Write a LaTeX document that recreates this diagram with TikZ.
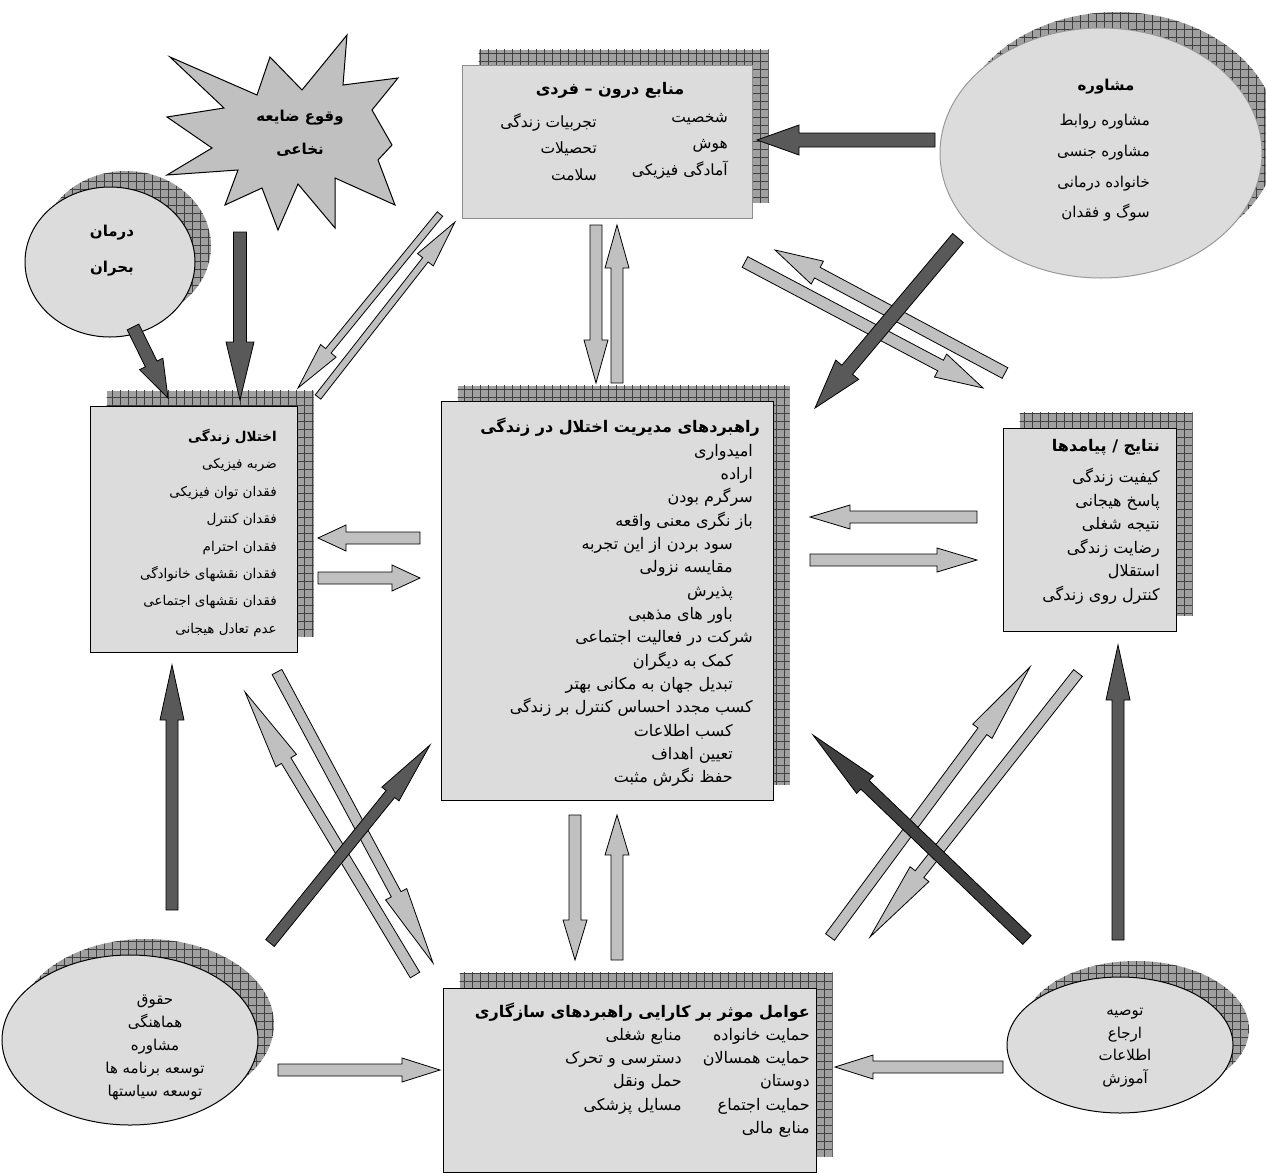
\documentclass[tikz,border=0pt]{standalone}
\usepackage{fontspec}
\newfontfamily\arabicfont[Script=Arabic]{DejaVu Sans}
\TeXXeTstate=1
\usetikzlibrary{calc,shapes.geometric,shadows,patterns.meta}

\definecolor{boxgray}{HTML}{DCDCDC}
\definecolor{lightarr}{HTML}{C0C0C0}
\definecolor{darkarr}{HTML}{595959}
\definecolor{darkerarr}{HTML}{404040}
\definecolor{shade}{HTML}{A0A0A0}

\newcommand{\rl}[1]{\beginR#1\endR}
% block arrow: tail, tip, fill, shaft half width, head half width, head length
\newcommand{\blockarrow}[6]{%
  \coordinate (neck) at ($(#2)!#6pt!(#1)$);
  \draw[blockline, fill=#3] ($(#1)!#4pt!90:(#2)$) -- ($(neck)!#4pt!90:(#2)$)
    -- ($(neck)!#5pt!90:(#2)$) -- (#2) -- ($(neck)!#5pt!-90:(#2)$)
    -- ($(neck)!#4pt!-90:(#2)$) -- ($(#1)!#4pt!-90:(#2)$) -- cycle;}

\begin{document}
\begin{tikzpicture}[x=1pt, y=-1pt,
    shadowed/.style={
      general shadow={shadow xshift=16pt, shadow yshift=16pt, fill=shade},
      general shadow={shadow xshift=16pt, shadow yshift=16pt,
        pattern={Hatch[distance=8pt, line width=0.6pt]}, pattern color=black!75}},
    box/.style={rectangle, draw=black, line width=1.2pt, fill=boxgray, anchor=north west, inner sep=0pt, shadowed},
    oval/.style={ellipse, draw=black, line width=1pt, fill=boxgray, inner sep=0pt, shadowed},
    txt/.style 2 args={font=\arabicfont\fontsize{#1}{#2}\selectfont, inner sep=0pt, align=right},
    blockline/.style={draw=black, line width=0.8pt, line join=miter}
  ]
  \useasboundingbox (0,0) rectangle (1266,1173);

  % boxes
  \node[box, draw=black!45, minimum width=290pt, minimum height=153pt] (inner) at (462,65) {};
  \node[box, minimum width=207pt, minimum height=246pt] (life) at (90,406) {};
  \node[box, minimum width=332pt, minimum height=399pt] (strat) at (441,401) {};
  \node[box, minimum width=173pt, minimum height=203pt] (outcome) at (1003,428) {};
  \node[box, minimum width=373pt, minimum height=184pt] (factors) at (443,988) {};
  % ovals
  \node[oval, draw=black!40, minimum width=322pt, minimum height=250pt] (counsel) at (1101,153) {};
  \node[oval, minimum width=170pt, minimum height=150pt] (crisis) at (110,262) {};
  \node[oval, minimum width=256pt, minimum height=170pt] (policy) at (130,1040) {};
  \node[oval, minimum width=226pt, minimum height=136pt] (educ) at (1120,1045) {};
  % starburst
  \draw[line width=1pt, fill=lightarr] (170,57) -- (257,95) -- (270,57) -- (302,90) -- (347,35)
    -- (343,85) -- (398,78) -- (372,110) -- (392,145) -- (378,160) -- (395,205) -- (335,178)
    -- (335,228) -- (298,184) -- (278,230) -- (262,188) -- (225,205) -- (238,170) -- (167,175)
    -- (212,148) -- (167,117) -- (224,108) -- cycle;

  % texts
  \node[txt={16}{23}, anchor=north] (innerT) at (610,82) {\bfseries\rl{منابع درون – فردی}};
  \node[txt={15.5}{26.5}, anchor=north east] (innerA) at (728,113) {\rl{شخصیت}\\\rl{هوش}\\\rl{آمادگی فیزیکی}};
  \node[txt={15.5}{26.5}, anchor=north east] (innerB) at (597,113) {\rl{تجربیات زندگی}\\\rl{تحصیلات}\\\rl{سلامت}};

  \node[txt={15}{23}, anchor=north] (counselT) at (1106,79) {\bfseries\rl{مشاوره}};
  \node[txt={15}{30.7}, anchor=north east] (counselL) at (1150,114) {\rl{مشاوره روابط}\\\rl{مشاوره جنسی}\\\rl{خانواده درمانی}\\\rl{سوگ و فقدان}};

  \node[txt={15}{36}, anchor=north, align=center] (crisisT) at (112,225) {\bfseries\rl{درمان}\\\bfseries\rl{بحران}};
  \node[txt={15}{33}, anchor=north, align=center] (burstT) at (300,110) {\bfseries\rl{وقوع ضایعه}\\\bfseries\rl{نخاعی}};

  \node[txt={13.5}{27.4}, anchor=north east] (lifeT) at (277,429) {{\bfseries\rl{اختلال زندگی}}\\
    \rl{ضربه فیزیکی}\\\rl{فقدان توان فیزیکی}\\\rl{فقدان کنترل}\\\rl{فقدان احترام}\\
    \rl{فقدان نقشهای خانوادگی}\\\rl{فقدان نقشهای اجتماعی}\\\rl{عدم تعادل هیجانی}};

  \node[txt={16}{23.33}, anchor=north east] (stratT) at (760,418) {{\bfseries\rl{راهبردهای مدیریت اختلال در زندگی}}\\
    \rl{امیدواری}\kern7pt\\
    \rl{اراده}\kern7pt\\
    \rl{سرگرم بودن}\kern7pt\\
    \rl{باز نگری معنی واقعه}\kern7pt\\
    \rl{سود بردن از این تجربه}\kern27pt\\
    \rl{مقایسه نزولی}\kern27pt\\
    \rl{پذیرش}\kern27pt\\
    \rl{باور های مذهبی}\kern27pt\\
    \rl{شرکت در فعالیت اجتماعی}\kern7pt\\
    \rl{کمک به دیگران}\kern27pt\\
    \rl{تبدیل جهان به مکانی بهتر}\kern27pt\\
    \rl{کسب مجدد احساس کنترل بر زندگی}\kern7pt\\
    \rl{کسب اطلاعات}\kern27pt\\
    \rl{تعیین اهداف}\kern27pt\\
    \rl{حفظ نگرش مثبت}\kern27pt};

  \node[txt={16}{23.5}, anchor=north east] (outT) at (1160,439) {{\bfseries\rl{نتایج / پیامدها}}\\[8pt]
    \rl{کیفیت زندگی}\\\rl{پاسخ هیجانی}\\\rl{نتیجه شغلی}\\\rl{رضایت زندگی}\\\rl{استقلال}\\\rl{کنترل روی زندگی}};

  \node[txt={16}{23}, anchor=north east] (factT) at (810,1003) {\bfseries\rl{عوامل موثر بر کارایی راهبردهای سازگاری}};
  \node[txt={16}{23.3}, anchor=north east] (factA) at (810,1028) {\rl{حمایت خانواده}\\\rl{حمایت همسالان}\\\rl{دوستان}\\\rl{حمایت اجتماع}\\\rl{منابع مالی}};
  \node[txt={16}{23.3}, anchor=north east] (factB) at (682,1028) {\rl{منابع شغلی}\\\rl{دسترسی و تحرک}\\\rl{حمل ونقل}\\\rl{مسایل پزشکی}};

  \node[txt={15}{23}, anchor=north, align=center] (policyT) at (155,995) {\rl{حقوق}\\\rl{هماهنگی}\\\rl{مشاوره}\\\rl{توسعه برنامه ها}\\\rl{توسعه سیاستها}};
  \node[txt={15}{22.7}, anchor=north, align=center] (educT) at (1125,1008) {\rl{توصیه}\\\rl{ارجاع}\\\rl{اطلاعات}\\\rl{آموزش}};

  % arrow ends
  \foreach \n/\x/\y in {a1s/935/140, a1e/757/140, a2s/240/232, a2e/240/400,
      a3s/133/327, a3e/168/398, a4s/958/238, a4e/815/408,
      a5s/440/214, a5e/298/388, a6s/318/397, a6e/455/222,
      a7s/596/225, a7e/596/383, a8s/617/383, a8e/617/225,
      a9s/1005/373, a9e/775/250, a10s/745/262, a10e/983/388,
      a11s/420/538, a11e/318/538, a12s/318/578, a12e/420/578,
      a13s/977/517, a13e/810/517, a14s/810/560, a14e/977/560,
      a15s/575/815, a15e/575/960, a16s/617/960, a16e/617/815,
      a17s/172/910, a17e/172/665, a18s/1118/940, a18e/1118/645,
      a19s/278/1070, a19e/440/1070, a20s/1003/1067, a20e/835/1067,
      a21s/415/975, a21e/245/692, a22s/277/672, a22e/433/963,
      a23s/270/943, a23e/430/745, a24s/830/937, a24e/1030/667,
      a25s/1078/673, a25e/870/937, a26s/1027/940, a26e/813/735}
    \coordinate (\n) at (\x,\y);

  % light arrows
  \blockarrow{a5s}{a5e}{lightarr}{3.5}{10}{48}
  \blockarrow{a6s}{a6e}{lightarr}{3.5}{10}{48}
  \blockarrow{a7s}{a7e}{lightarr}{6}{12}{43}
  \blockarrow{a8s}{a8e}{lightarr}{6}{12}{43}
  \blockarrow{a9s}{a9e}{lightarr}{6}{13}{48}
  \blockarrow{a10s}{a10e}{lightarr}{6}{13}{48}
  \blockarrow{a11s}{a11e}{lightarr}{6}{13}{28}
  \blockarrow{a12s}{a12e}{lightarr}{6}{13}{28}
  \blockarrow{a13s}{a13e}{lightarr}{6}{12}{40}
  \blockarrow{a14s}{a14e}{lightarr}{6}{12}{40}
  \blockarrow{a15s}{a15e}{lightarr}{6}{12}{40}
  \blockarrow{a16s}{a16e}{lightarr}{6}{12}{40}
  \blockarrow{a19s}{a19e}{lightarr}{6}{12}{38}
  \blockarrow{a20s}{a20e}{lightarr}{6}{12}{38}
  \blockarrow{a21s}{a21e}{lightarr}{5.5}{12}{80}
  \blockarrow{a22s}{a22e}{lightarr}{5.5}{12}{78}
  \blockarrow{a24s}{a24e}{lightarr}{5.5}{12}{80}
  \blockarrow{a25s}{a25e}{lightarr}{5.5}{12}{80}
  % dark arrows
  \blockarrow{a1s}{a1e}{darkarr}{7}{15}{42}
  \blockarrow{a2s}{a2e}{darkarr}{6.5}{14}{58}
  \blockarrow{a3s}{a3e}{darkarr}{6.5}{13}{38}
  \blockarrow{a4s}{a4e}{darkarr}{7}{15}{50}
  \blockarrow{a17s}{a17e}{darkarr}{6}{12}{55}
  \blockarrow{a18s}{a18e}{darkarr}{6}{12}{55}
  \blockarrow{a23s}{a23e}{darkarr}{5.5}{11}{63}
  \blockarrow{a26s}{a26e}{darkerarr}{6}{12}{72}
\end{tikzpicture}
\end{document}
